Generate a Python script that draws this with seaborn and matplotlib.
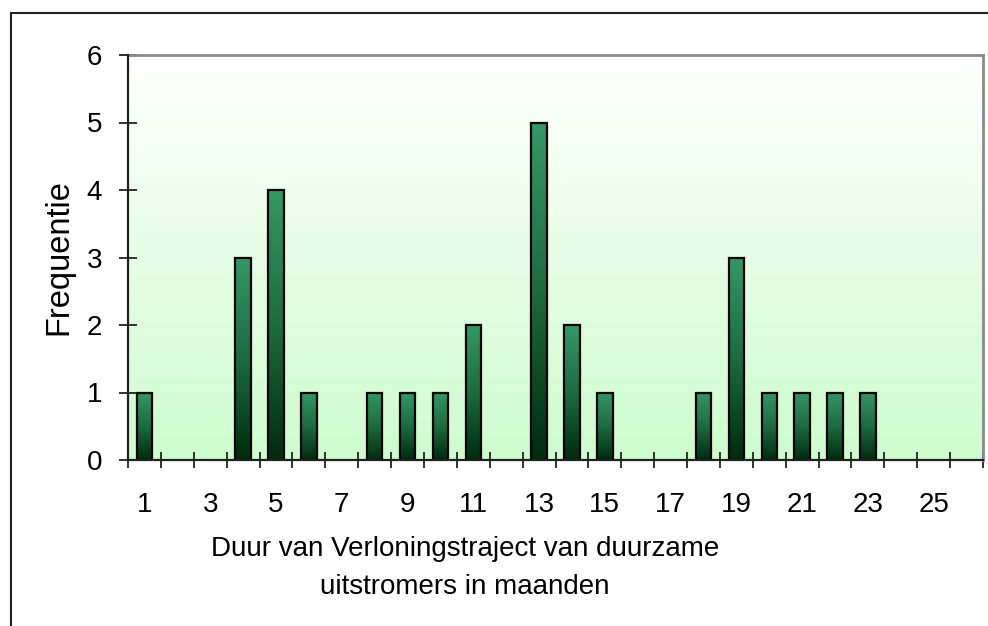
import numpy as np
import pandas as pd
import matplotlib
matplotlib.use("Agg")
import matplotlib.pyplot as plt
import seaborn as sns
from matplotlib.colors import LinearSegmentedColormap
from matplotlib.lines import Line2D

months = list(range(1, 27))
frequency = [1, 0, 0, 3, 4, 1, 0, 1, 1, 1, 2, 0, 5, 2, 1, 0, 0, 1, 3, 1, 1, 1, 1, 0, 0, 0]
y_ticks = [0, 1, 2, 3, 4, 5, 6]
x_label = "Duur van Verloningstraject van duurzame\nuitstromers in maanden"
y_label = "Frequentie"

sns.set_style("white")
plt.rcParams['font.family'] = ['Liberation Sans', 'DejaVu Sans']
plt.rcParams['text.color'] = 'black'
plt.rcParams['axes.labelcolor'] = 'black'

df = pd.DataFrame({"maand": [str(m) for m in months], "freq": frequency})

fig = plt.figure(figsize=(9.88, 6.26), dpi=100)
ax = fig.add_axes([128/988, 1-460/626, (983-128)/988, (460-55)/626])

sns.barplot(data=df, x="maand", y="freq", ax=ax, width=0.47,
            facecolor="none", edgecolor="black", linewidth=1.6, zorder=3)

xlim = (-0.5, len(months) - 0.5)
ylim = (0, 6)

# background gradient (white top -> light green bottom)
bg = LinearSegmentedColormap.from_list("bg", ["#cdfccd", "#ffffff"])
grad = np.linspace(0, 1, 256).reshape(-1, 1)
ax.imshow(grad, cmap=bg, origin="lower", aspect="auto",
          extent=[xlim[0], xlim[1], ylim[0], ylim[1]], zorder=0)

# bar gradient fill (green top -> dark bottom)
barcm = LinearSegmentedColormap.from_list("bar", ["#002b0c", "#1d6b40", "#339966"])
for p in ax.patches:
    h = p.get_height()
    if h <= 0:
        p.set_visible(False)
        continue
    x0 = p.get_x()
    w = p.get_width()
    im = ax.imshow(grad, cmap=barcm, origin="lower", aspect="auto",
                   extent=[x0, x0 + w, 0, h], zorder=2)
    im.set_clip_path(p)

ax.set_xlim(*xlim)
ax.set_ylim(*ylim)

# ticks
ax.set_yticks(y_ticks)
ax.set_xticks(range(0, len(months), 2))
ax.set_xticklabels([str(m) for m in months[::2]])
ax.set_xticks(np.arange(-0.5, len(months), 1.0), minor=True)
ax.tick_params(axis="x", which="major", length=0, pad=23, labelsize=20, labelcolor="black")
ax.tick_params(axis="x", which="minor", direction="inout", length=12, width=1.3,
               color="#222222", bottom=True)
ax.tick_params(axis="y", which="major", direction="inout", length=13, width=1.3,
               color="#222222", pad=12, labelsize=20, left=True, labelcolor="black")

# spines
for s in ["left", "bottom"]:
    ax.spines[s].set_color("#222222")
    ax.spines[s].set_linewidth(1.6)
    ax.spines[s].set_zorder(5)
for s in ["top", "right"]:
    ax.spines[s].set_visible(True)
    ax.spines[s].set_color("#8a8a8a")
    ax.spines[s].set_linewidth(2)

ax.set_xlabel(x_label, fontsize=20, linespacing=1.6, ha="center", va="top", color="black")
ax.xaxis.set_label_coords((465-128)/855, (460-536)/405)
ax.set_ylabel(y_label, fontsize=23.5, va="center", color="black")
ax.yaxis.set_label_coords((59-128)/855, 0.5)

# figure border (left and top visible)
fig.add_artist(Line2D([11/988, 11/988], [0, 1-13/626], transform=fig.transFigure,
                      color="#222222", linewidth=1.5))
fig.add_artist(Line2D([11/988, 1], [1-13/626, 1-13/626], transform=fig.transFigure,
                      color="#222222", linewidth=1.5))

fig.savefig("out.png", dpi=100)
